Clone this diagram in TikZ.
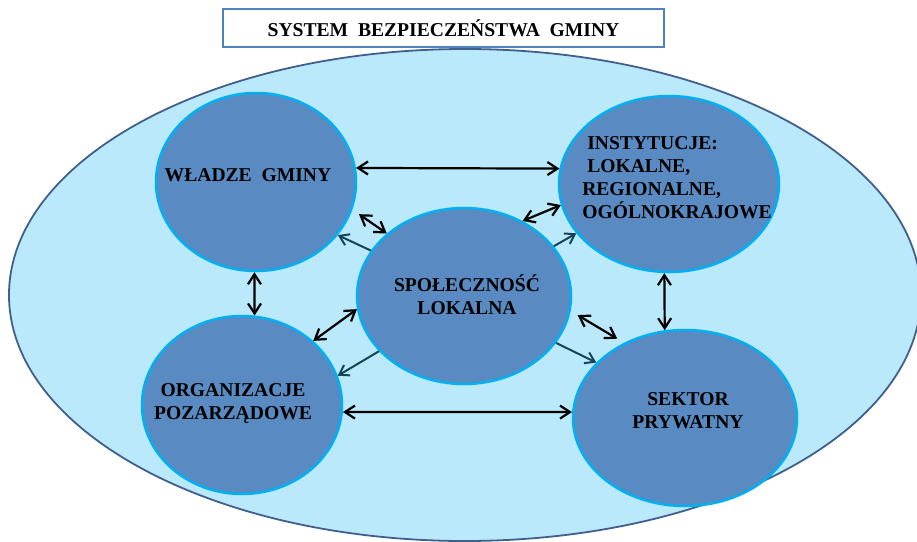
\documentclass[tikz,border=0pt]{standalone}
\usepackage{fontspec}
\setmainfont{Liberation Serif}
\usetikzlibrary{arrows.meta, shapes.geometric}
\definecolor{niebjasny}{RGB}{185,233,250}% tlo gminy
\definecolor{granat}{RGB}{65,95,140}
\definecolor{niebciemny}{RGB}{90,138,194}
\definecolor{cyjan}{RGB}{0,176,240}
\definecolor{niebramka}{RGB}{79,129,189}
\definecolor{morski}{RGB}{22,70,85}
\tikzset{
	napis/.style = {align=center, inner sep=0pt, black,
		font=\fontsize{19.6}{23}\selectfont\bfseries},
	krag/.style = {ellipse, draw=cyjan, fill=niebciemny, line width=2.5pt,
		inner sep=0pt},% podmiot
	obszar/.style = {ellipse, draw=granat, fill=niebjasny, line width=1.8pt,
		minimum width=912pt, minimum height=492pt},% obszar gminy
	ramka/.style = {napis, rectangle, draw=niebramka, fill=white,
		line width=2.2pt, minimum width=441pt, minimum height=38pt},% tytul
	dwu/.style = {{Straight Barb[length=10pt,width=13pt]}-{Straight Barb[length=10pt,width=13pt]},
		black, line width=2.2pt},% powiazanie obustronne
	jedno/.style = {-{Straight Barb[length=9pt,width=12pt]}, morski,
		line width=2pt}% wplyw
}
\begin{document}
\begin{tikzpicture}[x=1pt, y=-1pt]
\useasboundingbox (0,0) rectangle (917,541);
\node [obszar] (gmina) at (465,295) {};
\node [ramka] (tytul) at (443.5,28) {SYSTEM\ \ BEZPIECZEŃSTWA\ \ GMINY};

\node [krag, minimum width=200pt, minimum height=178pt] (wladze) at (256,182) {};
\node [krag, minimum width=220pt, minimum height=176pt] (instytucje) at (669,184) {};
\node [krag, minimum width=214pt, minimum height=176pt] (spol) at (464,296) {};
\node [krag, minimum width=200pt, minimum height=178pt] (organizacje) at (242,405) {};
\node [krag, minimum width=224pt, minimum height=176pt] (sektor) at (685,418) {};

\node [napis] (wladze_n) at (248,175) {WŁADZE\ \ GMINY};
\node [napis, align=left] (instytucje_n) at (677,178)
	{\hspace*{5pt}INSTYTUCJE:\\\hspace*{5pt}LOKALNE,\\REGIONALNE,\\OGÓLNOKRAJOWE};
\node [napis] (spol_n) at (467,295) {SPOŁECZNOŚĆ\\LOKALNA};
\node [napis] (organizacje_n) at (233,404) {ORGANIZACJE\\POZARZĄDOWE};
\node [napis] (sektor_n) at (688,411) {SEKTOR\\PRYWATNY};

% powiazania obustronne
\draw [dwu] (wladze.8) -- (instytucje.172);
\draw [dwu] (organizacje.-4) -- (sektor.177);
\draw [dwu] (wladze.269) -- (organizacje.82);
\draw [dwu] (instytucje.267) -- (sektor.103);
\draw [dwu, shorten <=8pt] (wladze.-16) -- (spol.141);
\draw [dwu] (spol.52) -- (instytucje.191);
\draw [dwu] (organizacje.42) -- (spol.187);
\draw [dwu, shorten <=8pt, shorten >=8pt] (spol.-8) -- (sektor.129);
% wplyw spolecznosci
\draw [jedno] (spol.154) -- (wladze.-33);
\draw [jedno] (spol.29) -- (instytucje.208);
\draw [jedno] (spol.213) -- (organizacje.17);
\draw [jedno] (spol.-27) -- (sektor.148);
\end{tikzpicture}
\end{document}
